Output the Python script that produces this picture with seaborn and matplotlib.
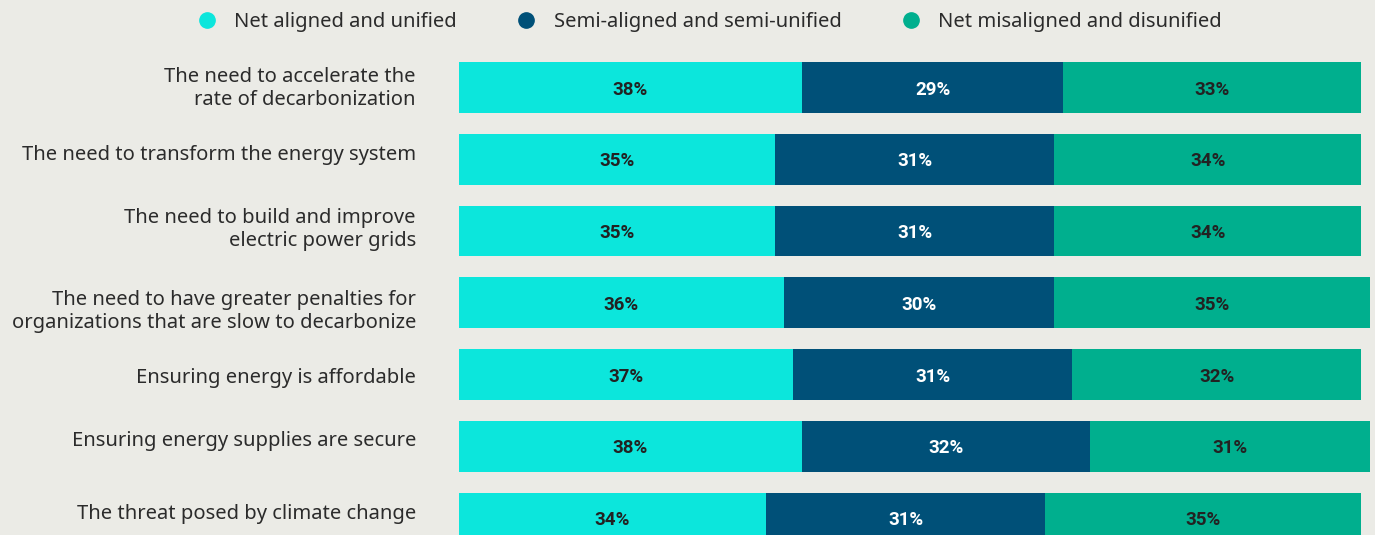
import matplotlib
matplotlib.use("Agg")
import matplotlib.pyplot as plt
import seaborn as sns
import pandas as pd
import numpy as np
from matplotlib.lines import Line2D
import matplotlib.transforms as mtransforms

categories = [
    "The need to accelerate the\nrate of decarbonization",
    "The need to transform the energy system",
    "The need to build and improve\nelectric power grids",
    "The need to have greater penalties for\norganizations that are slow to decarbonize",
    "Ensuring energy is affordable",
    "Ensuring energy supplies are secure",
    "The threat posed by climate change",
]
series_names = ["Net aligned and unified", "Semi-aligned and semi-unified", "Net misaligned and disunified"]
aligned = [38, 35, 35, 36, 37, 38, 34]
semi = [29, 31, 31, 30, 31, 32, 31]
misaligned = [33, 34, 34, 35, 32, 31, 35]

colors = ["#0ce6dc", "#005078", "#00af8e"]
text_colors = ["#222222", "#ffffff", "#222222"]
BG = "#ebebe6"
FONT = "Noto Sans"

sns.set_theme(style="white")
plt.rcParams["font.family"] = [FONT, "DejaVu Sans"]

df = pd.DataFrame({"category": categories, "a": aligned, "b": semi, "c": misaligned})
df["cum1"] = df["a"]
df["cum2"] = df["a"] + df["b"]
df["cum3"] = df["a"] + df["b"] + df["c"]

W, H = 1375, 535
fig = plt.figure(figsize=(W / 100, H / 100), dpi=100, facecolor=BG)
left_px = 459
ax = fig.add_axes([left_px / W, 0, (W - left_px) / W, 1])
ax.set_facecolor(BG)

bw = 0.71
for col, c in zip(["cum3", "cum2", "cum1"], colors[::-1]):
    sns.barplot(data=df, x=col, y="category", orient="h", color=c, width=bw,
                saturation=1, ax=ax, linewidth=0, edgecolor="none")

px_per_pct = 902 / 100
ax.set_xlim(0, (W - left_px) / px_per_pct)
spacing = 71.75
c0 = 87.5
ax.set_ylim((H - c0) / spacing, -c0 / spacing)

starts = [np.zeros(len(categories)), df["cum1"].values, df["cum2"].values]
vals = [aligned, semi, misaligned]
for s, v, tc in zip(starts, vals, text_colors):
    for i in range(len(categories)):
        ax.text(s[i] + v[i] / 2, i + 0.03, f"{v[i]}%", ha="center", va="center",
                color=tc, fontsize=13.5, fontweight="bold",
                family=["Roboto", "DejaVu Sans"])

ax.set_xlabel("")
ax.set_ylabel("")
ax.set_xticks([])
ax.tick_params(axis="y", length=0, pad=31)
for sp in ax.spines.values():
    sp.set_visible(False)

label_offsets = [-3, -7, -6, 5, 1, -8, -6]
for lab, off in zip(ax.get_yticklabels(), label_offsets):
    lab.set_fontsize(14.5)
    lab.set_color("#2b2b2b")
    lab.set_horizontalalignment("right")
    lab.set_multialignment("right")
    lab.set_linespacing(1.2)
    lab.set_transform(lab.get_transform() + mtransforms.ScaledTranslation(0, -off / 100, fig.dpi_scale_trans))

handles = [Line2D([0], [0], marker="o", linestyle="none", markersize=11,
                  markerfacecolor=c, markeredgecolor=c) for c in colors]
leg = fig.legend(handles, series_names, loc="center left", bbox_to_anchor=(197 / W, 1 - 22 / H),
                 ncol=3, frameon=False, fontsize=14.5, handlelength=1.0, handletextpad=0.85,
                 columnspacing=2.95, borderaxespad=0, borderpad=0)
for t in leg.get_texts():
    t.set_color("#2b2b2b")

fig.savefig("out.png", dpi=100, facecolor=BG)
